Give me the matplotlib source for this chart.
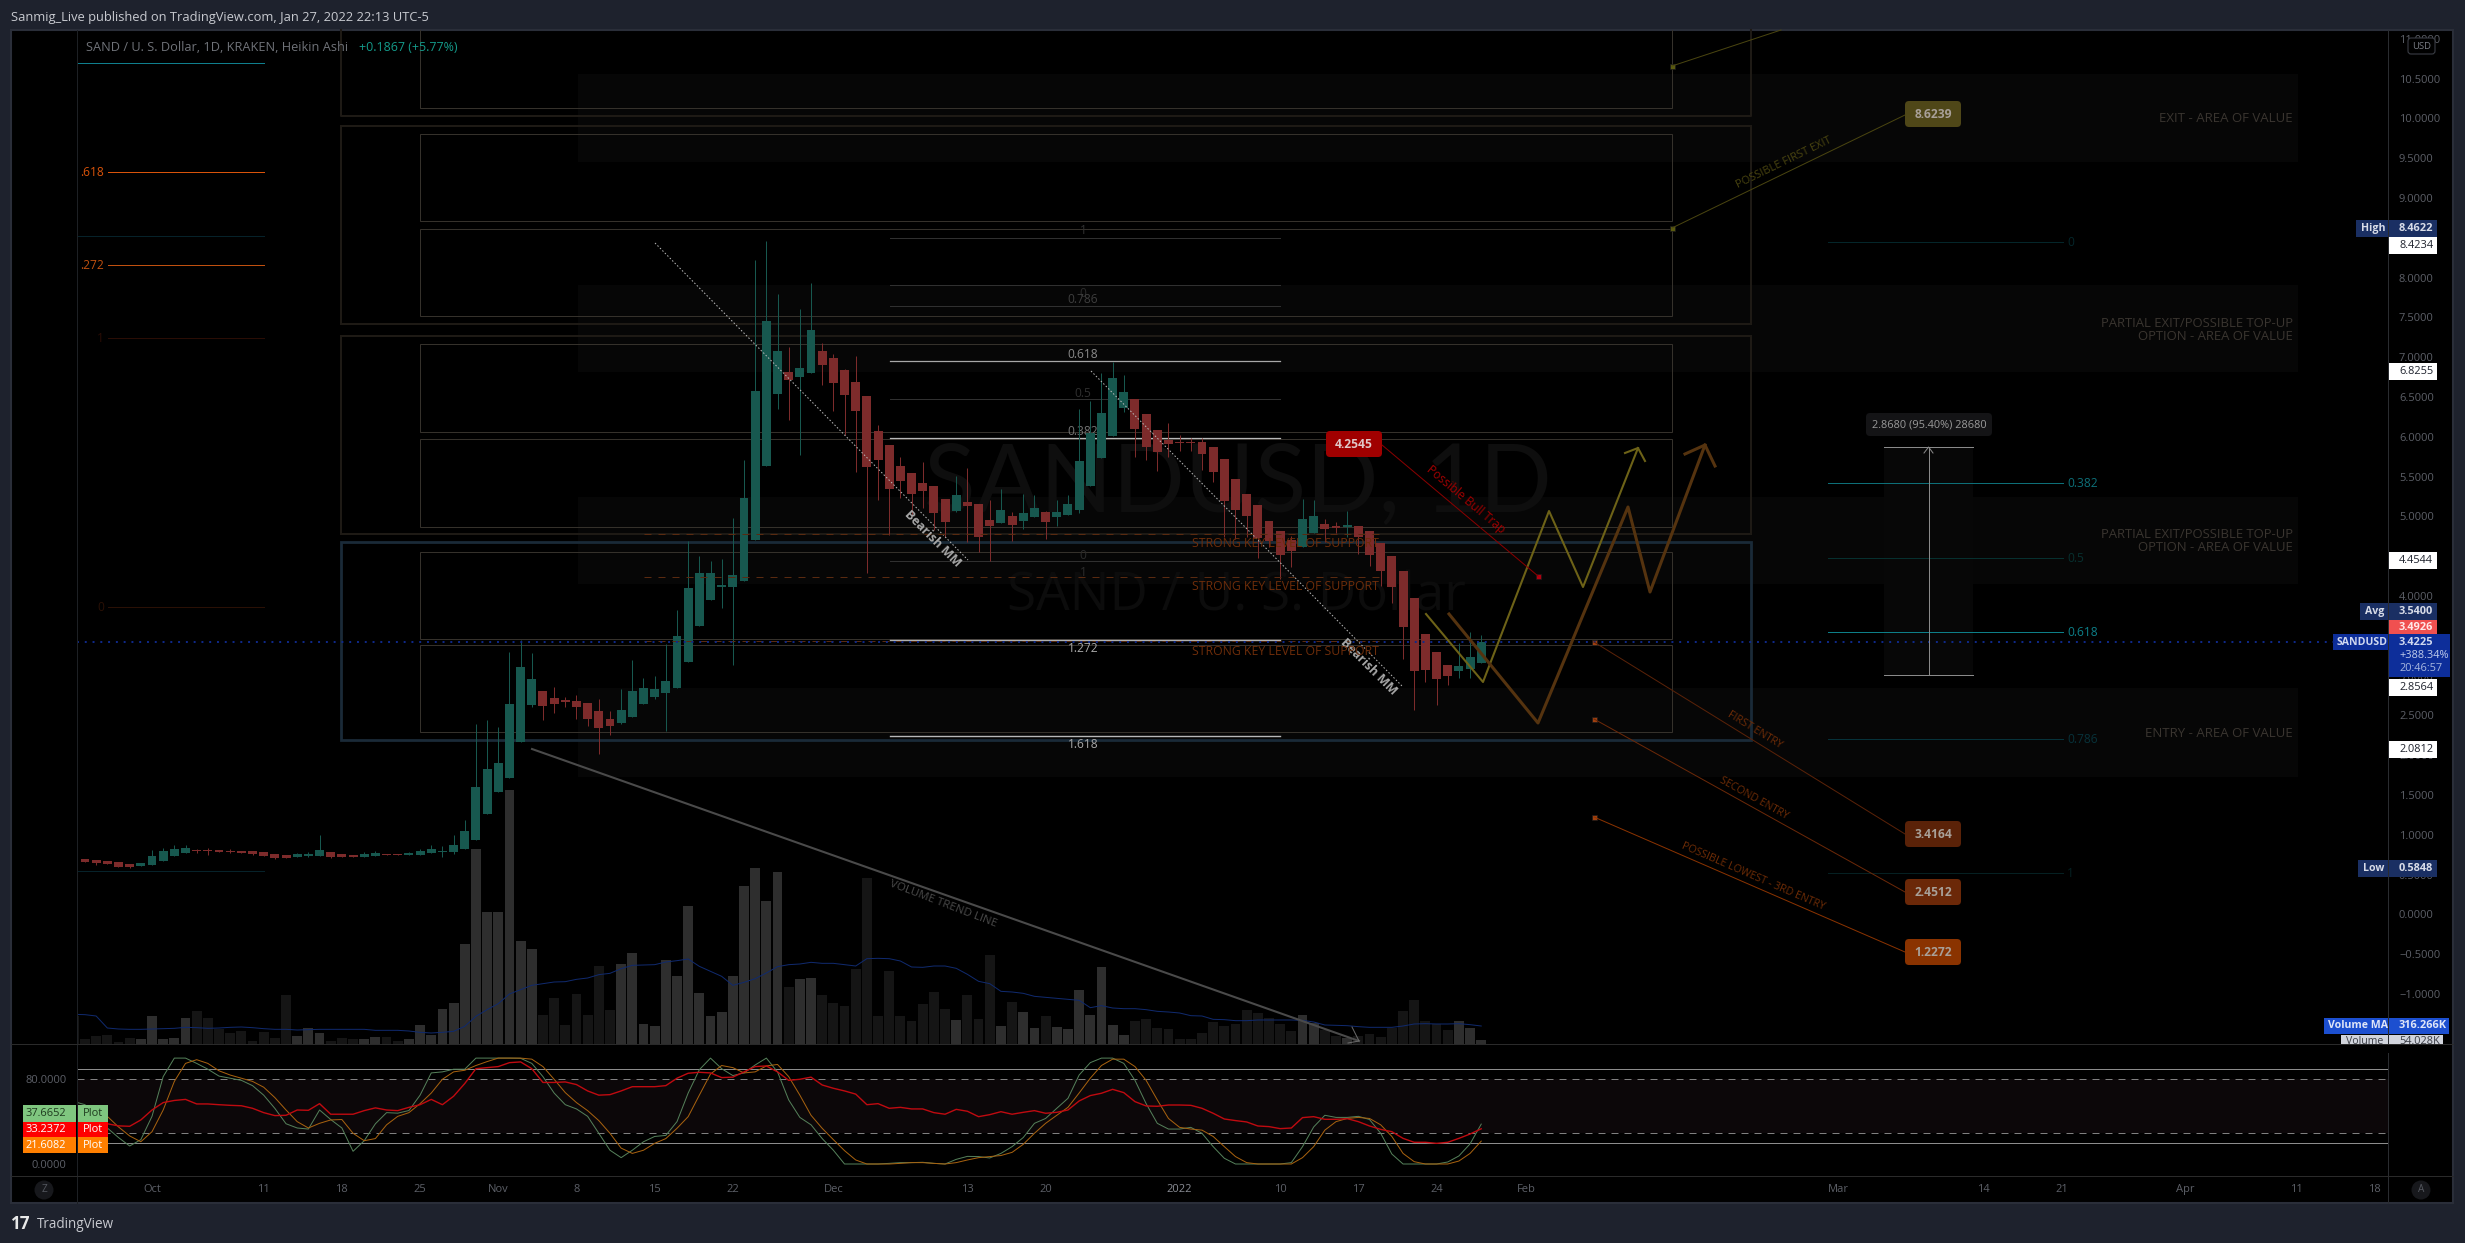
import matplotlib
matplotlib.use("Agg")
import matplotlib.pyplot as plt
from matplotlib.patches import Rectangle, FancyBboxPatch, Circle
from matplotlib.ticker import FixedLocator, FuncFormatter

W, H = 2465, 1243
plt.rcParams['font.family'] = ['Open Sans', 'DejaVu Sans']

# --- 1. DATA (day 0 = Oct 1 2021) ---
first_day = -7

opens = [.692, .692, .679, .671, .658, .633, .612, .625, .671, .738,
         .775, .809, .809, .809, .800, .800, .796, .784, .759, .746,
         .721, .733, .738, .784, .759, .742, .721, .738, .763, .763,
         .750, .750, .775, .788, .784, .822, .935, 1.262, 1.538, 1.714,
         2.166, 2.631, 2.807, 2.719, 2.694, 2.681, 2.656, 2.556, 2.455, 2.405,
         2.480, 2.643, 2.731, 2.782, 2.844, 3.171, 3.623, 3.950, 4.113, 4.113,
         4.189, 4.704, 5.633, 6.538, 6.814, 6.751, 6.802, 7.078, 6.990, 6.839,
         6.689, 6.513, 6.073, 5.897, 5.633, 5.545, 5.420, 5.382, 5.219, 5.068,
         5.181, 5.156, 4.955, 4.917, 5.005, 4.942, 4.992, 5.055, 4.992, 5.018,
         5.081, 5.382, 5.734, 6.010, 6.362, 6.475, 6.287, 6.085, 5.959, 5.934,
         5.934, 5.934, 5.871, 5.721, 5.470, 5.281, 5.143, 4.942, 4.816, 4.703,
         4.619, 4.791, 4.904, 4.879, 4.862, 4.879, 4.816, 4.665, 4.502, 4.314,
         3.974, 3.522, 3.296, 3.133, 3.057, 3.082, 3.158]
highs = [.692, .695, .679, .671, .658, .633, .646, .809, .834, .872,
         .872, .826, .830, .809, .821, .800, .796, .784, .759, .746,
         .775, .780, .997, .784, .759, .742, .780, .792, .763, .763,
         .784, .821, .872, .859, .998, 1.186, 2.392, 2.442, 2.354, 3.297,
         3.447, 3.284, 2.807, 2.857, 2.731, 2.756, 2.656, 2.706, 2.556, 2.832,
         3.196, 2.970, 2.995, 3.397, 3.824, 4.691, 4.503, 4.440, 4.465, 4.980,
         5.709, 8.221, 8.4622, 7.794, 7.128, 7.606, 7.932, 7.178, 7.040, 6.850,
         7.015, 6.513, 6.148, 5.897, 5.746, 5.545, 5.684, 5.382, 5.219, 5.508,
         5.608, 5.156, 5.206, 5.344, 5.055, 5.281, 5.269, 5.068, 5.206, 5.269,
         6.349, 6.450, 6.802, 6.940, 6.777, 6.475, 6.287, 6.085, 6.169, 6.022,
         5.989, 5.989, 5.871, 5.721, 5.470, 5.281, 5.143, 4.942, 4.816, 4.753,
         5.218, 5.206, 4.967, 4.929, 5.067, 4.879, 4.816, 4.665, 4.502, 4.314,
         3.974, 3.522, 3.296, 3.133, 3.409, 3.547, 3.510]
lows = [.671, .658, .625, .637, .599, .583, .612, .620, .671, .738,
        .775, .775, .750, .788, .771, .775, .746, .733, .692, .708,
        .721, .725, .738, .710, .725, .725, .721, .738, .750, .750,
        .750, .750, .775, .725, .759, .822, .935, 1.262, 1.538, 1.714,
        2.166, 2.606, 2.442, 2.530, 2.606, 2.455, 2.367, 2.015, 2.254, 2.392,
        2.480, 2.643, 2.706, 2.304, 2.844, 3.171, 3.623, 3.950, 3.849, 3.133,
        4.189, 4.704, 5.633, 6.349, 6.211, 5.771, 6.802, 6.651, 6.324, 6.023,
        5.558, 4.289, 5.206, 4.767, 5.231, 5.000, 5.106, 4.829, 4.745, 5.055,
        4.679, 4.553, 4.440, 4.917, 4.691, 4.842, 4.992, 4.716, 4.880, 5.018,
        5.043, 5.382, 5.734, 6.010, 6.312, 5.746, 5.709, 5.570, 5.750, 5.821,
        5.821, 5.582, 5.432, 4.745, 4.716, 4.745, 4.481, 4.619, 4.213, 4.364,
        4.619, 4.791, 4.682, 4.791, 4.745, 4.527, 4.376, 4.125, 3.912, 3.208,
        2.567, 2.919, 2.630, 2.881, 2.970, 2.970, 3.158]
closes = [.671, .658, .641, .637, .599, .591, .646, .733, .796, .821,
          .834, .796, .800, .788, .788, .775, .759, .733, .704, .708,
          .759, .759, .809, .721, .725, .725, .763, .771, .750, .750,
          .775, .796, .821, .796, .872, 1.048, 1.601, 1.827, 1.902, 2.643,
          3.108, 2.958, 2.618, 2.643, 2.669, 2.606, 2.455, 2.342, 2.367, 2.568,
          2.807, 2.844, 2.832, 2.932, 3.498, 4.101, 4.289, 4.289, 4.139, 4.264,
          5.231, 6.576, 7.455, 7.078, 6.714, 6.864, 7.342, 6.902, 6.676, 6.525,
          6.324, 5.621, 5.709, 5.344, 5.445, 5.282, 5.319, 5.043, 4.930, 5.269,
          5.131, 4.741, 4.880, 5.081, 4.892, 5.043, 5.106, 4.930, 5.055, 5.156,
          5.696, 6.050, 6.299, 6.739, 6.563, 6.098, 5.872, 5.809, 5.909, 5.926,
          5.926, 5.783, 5.557, 5.193, 5.080, 5.005, 4.724, 4.690, 4.515, 4.565,
          4.967, 5.005, 4.841, 4.854, 4.892, 4.741, 4.515, 4.314, 4.113, 3.610,
          3.057, 3.070, 2.957, 2.994, 3.120, 3.233, 3.4225]

# volume and its MA in relative units, as tall as the bars are drawn
volume = [83, 16, 25, 28, 7, 19, 16, 85, 16, 19,
          79, 100, 79, 46, 34, 40, 10, 37, 19, 148,
          25, 49, 34, 10, 19, 16, 16, 22, 22, 10,
          16, 58, 28, 106, 124, 301, 586, 397, 397, 762,
          310, 286, 88, 139, 58, 151, 88, 235, 103, 241,
          274, 61, 55, 253, 205, 415, 154, 85, 97, 205,
          475, 529, 430, 517, 172, 196, 199, 148, 124, 115,
          226, 499, 85, 220, 85, 70, 121, 157, 106, 73,
          148, 76, 268, 55, 127, 97, 49, 85, 52, 46,
          163, 88, 232, 58, 28, 70, 76, 49, 46, 16,
          16, 34, 67, 55, 61, 103, 94, 79, 61, 40,
          88, 63, 43, 25, 19, 25, 31, 22, 49, 100,
          133, 70, 61, 43, 70, 49, 13]
volume_ma = [89, 88, 84, 48, 45, 44, 44, 45, 46, 47,
             50, 49, 47, 48, 50, 51, 49, 46, 44, 44,
             42, 43, 44, 44, 44, 44, 44, 41, 41, 41,
             39, 35, 33, 35, 38, 53, 83, 103, 121, 150,
             163, 176, 181, 186, 187, 194, 198, 208, 212, 226,
             236, 237, 238, 246, 250, 255, 233, 218, 203, 176,
             185, 196, 213, 232, 238, 240, 245, 242, 242, 238,
             234, 256, 257, 256, 249, 231, 230, 234, 234, 227,
             209, 188, 181, 158, 156, 152, 143, 140, 137, 134,
             131, 109, 115, 108, 106, 106, 103, 98, 96, 93,
             85, 84, 74, 73, 70, 70, 72, 72, 72, 72,
             71, 66, 57, 56, 55, 52, 50, 50, 50, 54,
             60, 61, 60, 60, 61, 58, 54]

stoch_k = [59, 56, 45, 34, 25, 17, 23, 45, 82.5, 100,
           100, 95, 89.5, 83, 81, 79, 74, 65, 52.5, 38,
           34, 33, 51, 42, 34, 12, 22, 38, 48.5, 48,
           50.5, 65, 86, 87, 89.5, 89.5, 100, 100, 100, 100,
           99.8, 95, 82.5, 67, 56, 52, 45, 29, 13, 6,
           13, 21, 26, 27, 40, 67, 89, 100, 90, 83.5,
           86, 93.5, 100, 87, 60.5, 44, 37, 24, 13, 0,
           0, 0, 0, .6, 1.3, 1.3, 1.6, .6, 0, 4.4,
           7.2, 7, 5.7, 10, 16.4, 25, 38.4, 43, 52.6, 62,
           84, 95.7, 100, 100, 95, 79, 57, 38.4, 33, 33,
           34.6, 29, 16.4, 5.4, 0, 0, 0, 0, 0, 1.3,
           16.4, 35, 46, 44, 44, 45, 42, 29, 9.4, 0,
           0, 0, 0, 1.9, 7.6, 19, 37.67]
stoch_d = [54, 55, 52.6, 45, 35, 26.5, 21, 30.5, 51, 78,
           95, 98.5, 95, 88, 84, 81, 78, 72.5, 62.7, 51,
           40, 34, 38.4, 41.6, 42, 29, 22, 24, 37, 45,
           48.5, 57, 67, 80, 87, 88.5, 93, 96.7, 100, 100,
           100, 99, 92, 80, 67.4, 58, 50.4, 41, 29, 15,
           10, 13, 19.5, 24, 33.7, 44.7, 65, 85, 93, 91,
           86, 87, 92.6, 94, 82.5, 65, 46, 33.7, 23, 12.6,
           3.8, 0, 0, 0, .6, 1.3, 1.3, .6, 0, 1.3,
           3.8, 6, 7, 8, 11, 18.6, 29, 38.4, 46, 53.5,
           67, 81, 93, 99, 99, 92, 79, 60.5, 43, 34.6,
           33, 32, 26, 16.4, 7, 1.3, 0, 0, 0, 0,
           6, 16.4, 32, 40, 43, 44, 43, 37, 26, 10,
           2.2, 0, 0, 0, 2.8, 10, 21.61]
rsi_line = [43, 43, 40, 38, 36, 35.6, 41.6, 51, 58, 60,
            61, 56.7, 56.7, 56, 55.4, 55, 52.6, 48.5, 45.7, 46,
            51, 50.7, 57, 47, 47, 47, 50.4, 53, 51, 50.4,
            53.5, 56, 61, 56, 64, 76, 90, 91, 92, 95.7,
            96.4, 90, 77, 77, 77.5, 75, 69, 65, 65.5, 69,
            73, 73, 73, 74, 81, 85.7, 86.6, 86, 81.6, 82,
            87, 92, 92.6, 87, 79, 80, 82, 74.6, 71.5, 69,
            66, 56, 57, 52.6, 53.5, 52, 52, 48.5, 47, 51.6,
            49.8, 44.7, 46.6, 49.4, 47, 48.8, 50.4, 47.9, 48.8, 51,
            59.5, 64.6, 66.8, 70.5, 67.4, 58.9, 54.8, 54.5, 55.7, 55.7,
            55.4, 52.6, 47.9, 42.5, 41, 39.7, 35.9, 35.3, 33.4, 34,
            43.8, 44.7, 42.2, 42.2, 42.8, 40, 35.9, 32.7, 30.5, 24.2,
            20.5, 20.5, 19.5, 20.5, 24.2, 28.3, 33.24]

price_ticks = [11, 10.5, 10, 9.5, 9, 8.5, 8, 7.5, 7, 6.5, 6, 5.5, 5, 4.5, 4, 3.5,
               3, 2.5, 2, 1.5, 1, .5, 0, -.5, -1]
date_ticks = [0, 10, 17, 24, 31, 38, 45, 52, 61, 73, 80, 92, 101, 108, 115, 123,
              151, 164, 171, 182, 192, 199]
date_labels = ['Oct', '11', '18', '25', 'Nov', '8', '15', '22', 'Dec', '13', '20', '2022',
               '10', '17', '24', 'Feb', 'Mar', '14', '21', 'Apr', '11', '18']

days = list(range(first_day, first_day + len(closes)))

# --- 2. SCALES AND AXES ---
PANEL_L, PANEL_T, PANEL_R, PANEL_B = 11, 30, 2453, 1203
PLOT_L, PLOT_R = 76.5, 2388
MAIN_B, OSC_B = 1044, 1176
GREEN, RED = '#17584f', '#7d2b2b'
AXIS_TXT = '#5d6068'
THIN = 0.72  # one pixel at this dpi


def day_of(px):
    return (px - 152) / 11.17


def price_of(py):
    return 4 + (596 - py) / 79.6


def osc_of(py):
    return (1164 - py) / 1.059


def px_axes(l, t, r, b, z):
    a = fig.add_axes([l / W, 1 - b / H, (r - l) / W, (b - t) / H], zorder=z)
    a.patch.set_visible(False)
    return a


def pts(px):
    return px / 1.389


fig = plt.figure(figsize=(W / 100, H / 100), dpi=100, facecolor='#1e222d')

bg = px_axes(0, 0, W, H, 0)
ov = px_axes(0, 0, W, H, 5)
for a in (bg, ov):
    a.set_xlim(0, W)
    a.set_ylim(H, 0)
    a.axis('off')

ax = px_axes(PLOT_L, PANEL_T, PLOT_R, MAIN_B, 2)
ax.set_xlim(day_of(PLOT_L), day_of(PLOT_R))
ax.set_ylim(price_of(MAIN_B), price_of(PANEL_T))
vol = ax.twinx()
vol.set_zorder(1)
vol.patch.set_visible(False)
vol.set_ylim(0, (MAIN_B - PANEL_T) * 3)
vol.axis('off')

osc = px_axes(PLOT_L, MAIN_B, PLOT_R, OSC_B, 2)
osc.set_xlim(ax.get_xlim())
osc.set_ylim(osc_of(OSC_B), osc_of(MAIN_B))

# --- 3. BACKGROUND: panel, zones, watermark, boxes, fib levels ---
bg.add_patch(Rectangle((PANEL_L, PANEL_T), PANEL_R - PANEL_L, PANEL_B - PANEL_T,
                       fc='#000000', ec='#2a2e39', lw=1.5))


def text(a, x, y, s, size, color, ha='left', rot=0, weight='normal', **kw):
    return a.text(x, y, s, fontsize=pts(size), color=color, ha=ha, va='center', rotation=rot,
                  rotation_mode='anchor', fontweight=weight, **kw)


for top, bottom in [(74, 162), (285, 372), (497, 584), (688, 777)]:
    bg.add_patch(Rectangle((577.5, top), 2298 - 577.5, bottom - top, fc='#060606', ec='none'))

text(bg, 924, 484, 'SANDUSD, 1D', 95, '#0e0e0e', family=['Lato', 'DejaVu Sans'])
text(bg, 1007, 597, 'SAND / U. S. Dollar', 53, '#0c0c0c')

# outer boxes
for top, bottom, col, lw in [(None, 116, '#1e1a15', 1.45), (126, 324, '#1e1a15', 1.45),
                             (336, 534, '#1e1a15', 1.45), (542, 740, '#1a2a38', 2)]:
    if top is None:
        bg.plot([341, 341, 1751, 1751], [PANEL_T, bottom, bottom, PANEL_T], color=col, lw=lw)
    else:
        bg.add_patch(Rectangle((341, top), 1751 - 341, bottom - top, fc='none', ec=col, lw=lw))

# inner boxes
for top, bottom in [(None, 108), (134, 221), (229, 316), (344, 432), (439, 527), (552, 639), (645, 732)]:
    if top is None:
        bg.plot([420, 420, 1672, 1672], [PANEL_T, bottom, bottom, PANEL_T], color='#35312b', lw=THIN)
    else:
        bg.add_patch(Rectangle((420, top), 1672 - 420, bottom - top, fc='none', ec='#35312b', lw=THIN))

# left fib
for y, x0, col in [(63, 76.5, '#0f7f8e'), (172, 108, '#d9530a'), (236, 76.5, '#06222a'),
                   (265, 108, '#c0500f'), (338, 108, '#2a0d05'), (607, 108, '#2a1005'),
                   (871, 76.5, '#06222a')]:
    bg.plot([x0, 264], [y, y], color=col, lw=THIN)
for y, s, col in [(172, '.618', '#d9530a'), (265, '.272', '#c0500f'),
                  (338, '1', '#2a0d05'), (607, '0', '#2a1005')]:
    text(bg, 104, y, s, 12, col, ha='right')

# center fib
for y, col, lw in [(237.7, '#303030', THIN), (285, '#303030', THIN), (306, '#303030', THIN), (361, '#a8a8a8', 0.9),
                   (399, '#303030', THIN), (438, '#b8b8b8', 0.9), (561, '#303030', THIN),
                   (640, '#b0b0b0', 1), (735.5, '#b8b8b8', 1)]:
    bg.plot([890, 1280], [y, y], color=col, lw=lw)
for y, s, col in [(230, '1', '#303030'), (293, '0', '#2c2c2c'), (299, '0.786', '#3e3e3e'),
                  (354, '0.618', '#8a8a8a'), (393, '0.5', '#303030'), (431, '0.382', '#747474'),
                  (555, '0', '#2c2c2c'), (572, '1', '#2c2c2c'),
                  (648, '1.272', '#a8a8a8'), (744, '1.618', '#a8a8a8')]:
    text(bg, 1083, y, s, 12, col, ha='center')

# right fib
for y, col in [(242, '#04262a'), (483, '#0d6f78'), (558, '#06302f'), (632, '#0d7f88'),
               (739, '#06323a'), (873, '#052022')]:
    bg.plot([1828, 2063], [y, y], color=col, lw=THIN)
for y, s, col in [(242, '0', '#04262a'), (483, '0.382', '#0d6f78'), (558, '0.5', '#06302f'),
                  (632, '0.618', '#0d7f88'), (739, '0.786', '#06323a'), (873, '1', '#052022')]:
    text(bg, 2067, y, s, 12, col)

# measure tool
bg.add_patch(Rectangle((1884, 447), 1973 - 1884, 675 - 447, fc='#070707', ec='none'))

# --- 4. CANDLES, VOLUME, OSCILLATOR ---
body_col = [GREEN if c >= o else RED for o, c in zip(opens, closes)]
vol_col = ['#2e2e2e' if c >= o else '#151515' for o, c in zip(opens, closes)]

vol.bar(days, volume, width=0.88, color=vol_col)
vol.plot(days, volume_ma, color='#102a6e', lw=THIN)

ax.vlines(days, lows, highs, colors=body_col, lw=THIN)
ax.bar(days, [max(abs(c - o), .012) for o, c in zip(opens, closes)],
       bottom=[min(o, c) for o, c in zip(opens, closes)], width=0.8, color=body_col)

ax.yaxis.tick_right()
ax.yaxis.set_major_locator(FixedLocator(price_ticks))
ax.yaxis.set_major_formatter(FuncFormatter(lambda v, _: f'{v:.4f}'.replace('-', '\u2212')))
ax.tick_params(axis='y', length=0, pad=pts(11), labelsize=8, labelcolor=AXIS_TXT)
ax.tick_params(axis='x', length=0, labelbottom=False)
for s in ax.spines.values():
    s.set_visible(False)

osc.axhspan(29, 80, color='#0c0709', lw=0)
osc.axhline(89.4, color='#8c8c8c', lw=THIN)
osc.axhline(19.5, color='#8c8c8c', lw=THIN)
osc.axhline(80, color='#808080', lw=THIN, ls=(0, (7, 6)))
osc.axhline(29, color='#808080', lw=THIN, ls=(0, (7, 6)))
osc.plot(days, stoch_k, color='#55805a', lw=THIN)
osc.plot(days, stoch_d, color='#a8620f', lw=THIN)
osc.plot(days, rsi_line, color='#c00a10', lw=1)
osc.set_yticks([0, 80], ['0.0000', '80.0000'])
osc.set_xticks(date_ticks, date_labels)
osc.tick_params(axis='y', length=0, pad=pts(10), labelsize=8, labelcolor=AXIS_TXT)
osc.tick_params(axis='x', length=0, pad=pts(8), labelsize=8, labelcolor=AXIS_TXT)
osc.get_xticklabels()[date_labels.index('2022')].set_color('#8a8d95')
for s in osc.spines.values():
    s.set_visible(False)

# --- 5. OVERLAY: drawings on top of the candles ---
for x0, y0, x1, y1 in [(655, 243, 968, 560), (1091, 371, 1403, 687)]:
    ov.plot([x0, x1], [y0, y1], color='#b8b8b8', lw=THIN, ls=(0, (1.5, 2)))
text(ov, 933, 539, 'Bearish MM', 12.5, '#a8a8a8', ha='center', rot=-45, weight='bold')
text(ov, 1369, 667, 'Bearish MM', 12.5, '#a8a8a8', ha='center', rot=-45, weight='bold')

for y in (534.4, 577.4, 641):
    ov.plot([644, 1381], [y, y], color='#5a2a10', lw=THIN, ls=(0, (7, 7)))
for y in (543, 586, 651):
    text(ov, 1192, y, 'STRONG KEY LEVEL OF SUPPORT', 12.2, '#6e2d0a')

ov.plot([PLOT_L, 2335], [642, 642], color='#0f2a8c', lw=1.4, ls=(0, (1, 3)))

# zigzags
ov.plot([1426, 1483, 1549, 1583, 1638], [614, 682, 511, 587, 448], color='#6d6217', lw=1.5)
ov.plot([1625, 1638, 1645], [453, 448, 461], color='#6d6217', lw=1.5)
ov.plot([1449, 1538, 1628, 1650, 1705], [614, 723, 507, 592, 445], color='#55330f', lw=2.2)
ov.plot([1685, 1705, 1715], [454, 445, 466], color='#55330f', lw=2.2)


def tag(x0, y0, x1, y1, s, fc, tc='#a8a098'):
    ov.add_patch(FancyBboxPatch((x0 + 4, y0 + 4), x1 - x0 - 8, y1 - y0 - 8, boxstyle='round,pad=4,rounding_size=4',
                                fc=fc, ec='none'))
    text(ov, (x0 + x1) / 2, (y0 + y1) / 2, s, 12, tc, ha='center', weight='bold')


def handle(x, y, col):
    ov.add_patch(Rectangle((x - 2.5, y - 2.5), 5, 5, fc=col, ec='#1a1a1a', lw=.5))


# red trap
ov.plot([1382, 1538], [445, 576], color='#8a0000', lw=THIN)
handle(1538, 576, '#b00010')
tag(1326, 431, 1382, 457, '4.2545', '#a00000', '#e0c8c8')
text(ov, 1466, 500, 'Possible Bull Trap', 12, '#a00000', ha='center', rot=-40)

# exits
ov.plot([1672, 1905], [228, 115], color='#4a4510', lw=THIN)
handle(1672, 228, '#5a5a10')
tag(1905, 101, 1961, 127, '8.6239', '#4f4718')
text(ov, 1784, 163, 'POSSIBLE FIRST EXIT', 11, '#4a4510', ha='center', rot=26)
ov.plot([1672, 1781], [66, 30], color='#4a4510', lw=THIN)
handle(1672, 66, '#5a5a10')

# entries
entry_tags = ['3.4164', '2.4512', '1.2272']
for hy, y0, col, s, tx, ty, rot, size, val in [
    (642, 821, '#5a2208', 'FIRST ENTRY', 1755, 730, -31.5, 10.8, entry_tags[0]),
    (719, 879, '#6b2808', 'SECOND ENTRY', 1754, 798, -29, 10.6, entry_tags[1]),
    (817, 939, '#8a3300', 'POSSIBLE LOWEST - 3RD ENTRY', 1753, 877, -23.5, 10.6, entry_tags[2]),
]:
    ov.plot([1594, 1905], [hy, y0 + 13], color=col, lw=THIN)
    handle(1594, hy, '#a04010')
    tag(1905, y0, 1961, y0 + 26, val, col)
    text(ov, tx, ty, s, size, '#6e2c06', ha='center', rot=rot)

# volume trend line
ov.plot([532, 1359], [749, 1041], color='#4a4a4a', lw=1.5)
ov.plot([1352, 1359, 1348], [1027, 1041, 1043], color='#6a6a6a', lw=THIN)
text(ov, 943, 904, 'VOLUME TREND LINE', 11.5, '#4a4a4a', ha='center', rot=-21)

# measure tool lines
ov.plot([1884, 1973], [447, 447], color='#8a8a8a', lw=THIN)
ov.plot([1884, 1973], [675, 675], color='#8a8a8a', lw=THIN)
ov.plot([1928.6, 1928.6], [447, 675], color='#8a8a8a', lw=THIN)
ov.plot([1924, 1928.6, 1933], [453, 447, 453], color='#8a8a8a', lw=THIN)
ov.add_patch(FancyBboxPatch((1870, 417), 118, 15, boxstyle='round,pad=4,rounding_size=4', fc='#141416', ec='none'))
text(ov, 1929, 425, '2.8680 (95.40%) 28680', 11, '#9a9a9a', ha='center')

# zone labels
text(ov, 2293, 118, 'EXIT - AREA OF VALUE', 13.2, '#3a3530', ha='right')
for y0 in (323, 534):
    text(ov, 2293, y0, 'PARTIAL EXIT/POSSIBLE TOP-UP', 13.1, '#3a3530', ha='right')
    text(ov, 2293, y0 + 13, 'OPTION - AREA OF VALUE', 13.1, '#3a3530', ha='right')
text(ov, 2293, 733, 'ENTRY - AREA OF VALUE', 13.2, '#3a3530', ha='right')

# --- 6. CHROME: separators, legend, price labels ---
ov.plot([PLOT_L, PLOT_L], [PANEL_T, PANEL_B], color='#1d2024', lw=THIN)
ov.plot([PLOT_R, PLOT_R], [PANEL_T, PANEL_B], color='#2a2c30', lw=THIN)

text(ov, 11, 17, 'Sanmig_Live published on TradingView.com, Jan 27, 2022 22:13 UTC-5', 12.85, '#c8cad0')
text(ov, 86, 47, 'SAND / U. S. Dollar, 1D, KRAKEN, Heikin Ashi', 12.8, '#6f7278')
text(ov, 359, 47, '+0.1867 (+5.77%)', 12.4, '#149a8a')


def price_box(top, bottom, left, right, fc):
    ov.add_patch(Rectangle((left, top), right - left, bottom - top, fc=fc, ec='none'))


def price_txt(y, s, col='#1e222d', weight='normal'):
    text(ov, 2399, y, s, 11, col, weight=weight)


for top, s in [(237, '8.4234'), (363, '6.8255'), (552, '4.4544'), (679, '2.8564'), (741, '2.0812')]:
    price_box(top, top + 17, PLOT_R, 2437, '#ffffff')
    price_txt(top + 8.5, s)

for top, name, left, s in [(220, 'High', 2356, '8.4622'), (603, 'Avg', 2360, '3.5400'), (860, 'Low', 2358, '0.5848')]:
    price_box(top, top + 17, left, 2437, '#1a2f63')
    text(ov, left + 5, top + 8.5, name, 10.5, '#d8dce8', weight='bold')
    price_txt(top + 8.5, s, '#d8dce8', 'bold')

price_box(620, 634, PLOT_R, 2437, '#f05050')
price_txt(627, '3.4926', '#ffe8e8', 'bold')

price_box(634, 650, 2333, PLOT_R, '#0d2e9a')
price_box(634, 677, PLOT_R, 2450, '#0d2e9a')
text(ov, 2337, 642, 'SANDUSD', 10.5, '#d0d8f0', weight='bold')
price_txt(642, '3.4225', '#d0d8f0', 'bold')
price_txt(655, '+388.34%', '#c0ccea')
price_txt(668, '20:46:57', '#a8b8e0')

price_box(1018, 1034, 2324, 2449, '#1c4fd0')
text(ov, 2328, 1026, 'Volume MA', 10.5, '#e0e6f8', weight='bold')
price_txt(1026, '316.266K', '#e0e6f8', 'bold')
price_box(1035, 1044, 2341, 2443, '#d1d4dc')
text(ov, 2346, 1041, 'Volume', 10.5, '#3a3d45')
price_txt(1041, '54.028K', '#3a3d45')
ov.add_patch(Rectangle((2330, 1044.5), 120, 8, fc='#000000', ec='none', zorder=6))

ov.plot([PANEL_L, PANEL_R], [MAIN_B, MAIN_B], color='#2a2a2a', lw=THIN, zorder=7)
ov.plot([PANEL_L, PANEL_R], [OSC_B, OSC_B], color='#2a2a2a', lw=THIN, zorder=7)

ov.add_patch(FancyBboxPatch((2411, 41), 21, 10, boxstyle='round,pad=3,rounding_size=3', fc='#000000', ec='#3a3d45', lw=.8))
text(ov, 2421.5, 46, 'USD', 9.5, '#7a7d85', ha='center')

# oscillator legend table
for (top, bottom), fc, tc, s in [((1105, 1122), '#7fc67f', '#1e3a1e', '37.6652'),
                                 ((1122, 1137), '#ff0000', '#ffffff', '33.2372'),
                                 ((1137, 1153), '#ff7f00', '#ffffff', '21.6082')]:
    ov.add_patch(Rectangle((23, top), 53, bottom - top, fc=fc, ec='none'))
    ov.add_patch(Rectangle((77.5, top), 30.5, bottom - top, fc=fc, ec='none'))
    text(ov, 66, (top + bottom) / 2, s, 11, tc, ha='right')
    text(ov, 103, (top + bottom) / 2, 'Plot', 11, tc, ha='right')

for cx, s in [(44, 'Z'), (2421, 'A')]:
    ov.add_patch(Circle((cx, 1190), 9.5, fc='#17181c', ec='none'))
    text(ov, cx, 1190, s, 10, '#555860', ha='center')

text(ov, 11, 1224, '17', 17, '#e8e8e8', weight='bold')
text(ov, 37, 1225, 'TradingView', 13.5, '#c8cad0')

fig.savefig('out.png', dpi=100, facecolor=fig.get_facecolor())
